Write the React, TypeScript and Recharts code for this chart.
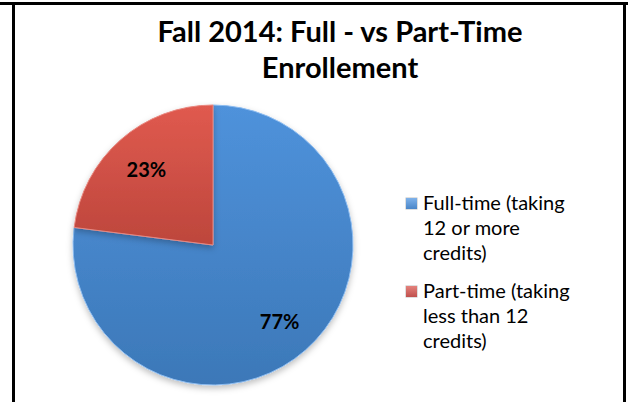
import React from "react";
import { PieChart, Pie, Cell, Legend } from "recharts";

const categories = ["Full-time (taking 12 or more credits)", "Part-time (taking less than 12 credits)"];
const legendLines = [
  ["Full-time (taking", "12 or more", "credits)"],
  ["Part-time (taking", "less than 12", "credits)"],
];
const shares = [77, 23];
const titleLines = ["Fall 2014: Full - vs Part-Time", "Enrollement"];

const data = categories.map((name, i) => ({ name, value: shares[i] }));
const fills = ["url(#gBlue)", "url(#gRed)"];
const swatch = ["#4a86c8", "#c0504d"];
const FONT = "Lato, 'Open Sans', sans-serif";
const RADIAN = Math.PI / 180;

const renderLabel = (p: any) => {
  const r = p.outerRadius * 0.72;
  const x = p.cx + r * Math.cos(-p.midAngle * RADIAN);
  const y = p.cy + r * Math.sin(-p.midAngle * RADIAN);
  return (
    <text x={x} y={y} textAnchor="middle" dominantBaseline="central" fontFamily={FONT} fontWeight={700} fontSize={20} fill="#000">
      {`${p.value}%`}
    </text>
  );
};

const LegendContent = () => (
  <div style={{ fontFamily: FONT, fontSize: 20, color: "#000", lineHeight: "25px" }}>
    {legendLines.map((lines, i) => (
      <div key={i} style={{ position: "relative", paddingLeft: 17, marginBottom: i === 0 ? 13 : 0 }}>
        <div style={{ position: "absolute", left: 0, top: 8, width: 11, height: 11, background: `linear-gradient(${i === 0 ? "#7fb2ea" : "#e4827c"}, ${swatch[i]})`, boxShadow: "0 0 0 0.5px rgba(0,0,0,0.25)" }} />
        {lines.map((l, j) => (
          <div key={j}>{l}</div>
        ))}
      </div>
    ))}
  </div>
);

export default function App() {
  return (
    <div style={{ position: "absolute", left: 0, top: 0, width: 628, height: 402, background: "#fff", overflow: "hidden" }}>
      <div style={{ position: "absolute", left: 0, top: 2, width: 628, height: 3, background: "#000" }} />
      <div style={{ position: "absolute", left: 12, top: 2, width: 3, height: 400, background: "#000" }} />
      <div style={{ position: "absolute", left: 623, top: 2, width: 3, height: 400, background: "#000" }} />
      <div style={{ position: "absolute", left: 40, width: 600, top: 13, textAlign: "center", fontFamily: FONT, fontWeight: 700, fontSize: 29, lineHeight: "36px", color: "#000" }}>
        {titleLines.map((t, i) => (
          <div key={i}>{t}</div>
        ))}
      </div>
      <div style={{ position: "absolute", left: 0, top: 0 }}>
        <PieChart width={628} height={402} margin={{ top: 0, right: 0, bottom: 0, left: 0 }}>
          <defs>
            <linearGradient id="gBlue" x1="0" y1="0" x2="0" y2="1">
              <stop offset="0%" stopColor="#4f92db" />
              <stop offset="100%" stopColor="#3c78b8" />
            </linearGradient>
            <linearGradient id="gRed" x1="0" y1="0" x2="0" y2="1">
              <stop offset="0%" stopColor="#e05a4f" />
              <stop offset="100%" stopColor="#bd463c" />
            </linearGradient>
            <filter id="shadow" x="-10%" y="-10%" width="120%" height="125%">
              <feDropShadow dx="0" dy="3" stdDeviation="3" floodColor="#000" floodOpacity="0.25" />
            </filter>
          </defs>
          <Pie
            data={data}
            dataKey="value"
            nameKey="name"
            cx={213}
            cy={245}
            outerRadius={140}
            startAngle={90}
            endAngle={-270}
            isAnimationActive={false}
            labelLine={false}
            label={renderLabel}
            stroke="#9cc3ef"
            strokeWidth={1}
            style={{ filter: "url(#shadow)" }}
          >
            {data.map((d, i) => (
              <Cell key={d.name} fill={fills[i]} stroke={i === 0 ? "#8dbcf0" : "#e8877f"} />
            ))}
          </Pie>
          <Legend
            layout="vertical"
            align="right"
            verticalAlign="top"
            content={<LegendContent />}
            wrapperStyle={{ position: "absolute", left: 406, top: 190, width: 210 }}
          />
        </PieChart>
      </div>
    </div>
  );
}
